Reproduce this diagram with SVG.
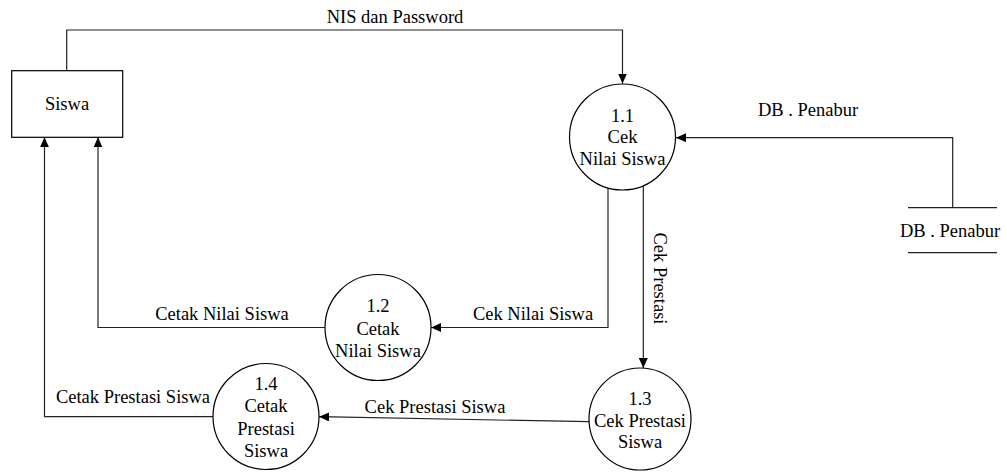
<svg xmlns="http://www.w3.org/2000/svg" width="1007" height="472" viewBox="0 0 1007 472">
<style>
text{font-family:"Liberation Serif","Times New Roman",serif;font-size:18.5px;fill:#000;text-anchor:middle}
.shape{fill:#fff;stroke:#000;stroke-width:1.2}
.flow{fill:none;stroke:#222;stroke-width:1.2}
.store{stroke:#222;stroke-width:1.2}
</style>
<defs>
<marker id="arr" markerUnits="userSpaceOnUse" markerWidth="11" markerHeight="9" refX="10" refY="4.5" orient="auto">
<path d="M0,0 L10,4.5 L0,9 z" fill="#000"/>
</marker>
</defs>
<rect width="1007" height="472" fill="#fff"/>
<g id="connectors">
<path class="flow" d="M66.7,70.7 V30 H622.5 V83.5" marker-end="url(#arr)"/>
<path class="flow" d="M952.7,207.7 V137.7 H676" marker-end="url(#arr)"/>
<path class="flow" d="M608,188 V327.5 H431" marker-end="url(#arr)"/>
<path class="flow" d="M643.3,186 V368" marker-end="url(#arr)"/>
<path class="flow" d="M589,421.7 L319,416.7" marker-end="url(#arr)"/>
<path class="flow" d="M325,327.5 H98 V137.3" marker-end="url(#arr)"/>
<path class="flow" d="M213,416.7 H44.5 V137.3" marker-end="url(#arr)"/>
<text x="395" y="23">NIS dan Password</text>
<text x="808" y="116">DB . Penabur</text>
<text x="533" y="320">Cek Nilai Siswa</text>
<text x="222" y="320">Cetak Nilai Siswa</text>
<text x="435" y="413">Cek Prestasi Siswa</text>
<text x="133" y="403">Cetak Prestasi Siswa</text>
<text transform="translate(654,278.5) rotate(90)">Cek Prestasi</text>
</g>
<g id="siswa">
<rect class="shape" x="11.7" y="70.7" width="111" height="66.6"/>
<text x="67" y="110">Siswa</text>
</g>
<g id="p1-1">
<circle class="shape" cx="622.5" cy="137" r="53"/>
<text x="622.5" y="121.7">1.1</text>
<text x="622.5" y="143.3">Cek</text>
<text x="622.5" y="165">Nilai Siswa</text>
</g>
<g id="p1-2">
<circle class="shape" cx="378" cy="327.5" r="53"/>
<text x="378" y="311.7">1.2</text>
<text x="378" y="335">Cetak</text>
<text x="378" y="357">Nilai Siswa</text>
</g>
<g id="p1-3">
<circle class="shape" cx="640" cy="419" r="51"/>
<text x="640" y="405">1.3</text>
<text x="640" y="426.7">Cek Prestasi</text>
<text x="640" y="448">Siswa</text>
</g>
<g id="p1-4">
<circle class="shape" cx="266" cy="416.5" r="53"/>
<text x="266" y="390">1.4</text>
<text x="266" y="411.7">Cetak</text>
<text x="266" y="435">Prestasi</text>
<text x="266" y="456.7">Siswa</text>
</g>
<g id="db-penabur">
<line class="store" x1="908" y1="207.7" x2="997" y2="207.7"/>
<line class="store" x1="908" y1="252.7" x2="997" y2="252.7"/>
<text x="950" y="236.7">DB . Penabur</text>
</g>
</svg>
